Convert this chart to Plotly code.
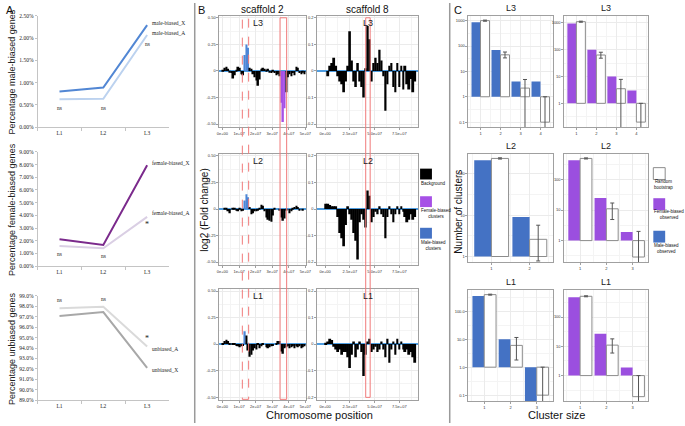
import numpy as np
import plotly.graph_objects as go

W, H = 685, 426

# ---------------- Panel A data ----------------
stages = ["L1", "L2", "L3"]
male_X = [0.80, 0.89, 2.29]
male_A = [0.63, 0.64, 2.07]
female_X = [2.13, 1.67, 7.94]
female_A = [1.59, 1.41, 3.88]
unbiased_A = [97.80, 97.96, 94.16]
unbiased_X = [97.07, 97.45, 92.10]
sig_male = ["ns", "ns", "ns"]
sig_female = ["ns", "ns", "*"]
sig_unbiased = ["ns", "ns", "*"]

# ---------------- Panel B data (log2 fold change per bin) ----------------
s2_bin = 1e6
s8_bin = 2e6
s2_L3 = [0.01, 0.03, 0.04, 0.02, -0.01, -0.02, -0.07, -0.04, 0.01, 0.04,
         0.03, -0.03, -0.04, 0.15, 0.25, 0.22, 0.03, 0.02, -0.03, -0.06,
         -0.09, -0.14, -0.08, 0.02, 0.03, 0.02, 0.01, 0.02, -0.01, -0.02,
         0.01, -0.02, -0.04, -0.03, -0.05, -0.30, -0.48, -0.35, -0.20, -0.06,
         -0.03, -0.05, -0.02, -0.04, 0.04, 0.03, -0.02, -0.03, -0.01, -0.03]
s2_L3_male = [13, 14, 15]
s2_L3_female = [35, 36, 37]
s2_L2 = [0.0, 0.01, 0.01, -0.02, -0.04, 0.0, 0.005, 0.005, -0.01, -0.02,
         0.01, -0.02, -0.01, 0.08, 0.14, 0.11, 0.02, -0.05, -0.04, -0.02,
         -0.02, -0.01, 0.01, 0.04, 0.03, -0.02, -0.08, -0.10, -0.11, -0.12,
         -0.06, 0.01, 0.0, 0.0, -0.01, -0.08, -0.11, -0.09, -0.01, 0.0,
         -0.04, -0.02, 0.01, 0.02, 0.03, 0.02, -0.01, 0.0, -0.01, 0.0]
s2_L2_male = [13, 14, 15]
s2_L2_female = []
s2_L1 = [0.01, 0.03, 0.04, 0.03, 0.01, 0.0, 0.005, 0.005, -0.01, -0.02,
         -0.03, -0.02, -0.01, 0.12, 0.08, -0.06, -0.12, -0.10, -0.06, -0.04,
         -0.05, 0.01, -0.04, -0.02, 0.01, 0.0, -0.03, -0.04, -0.03, -0.02,
         -0.01, 0.0, 0.01, 0.03, 0.03, -0.07, -0.09, -0.04, -0.03, -0.02,
         -0.04, -0.03, -0.02, -0.04, -0.02, -0.03, -0.02, -0.04, -0.03, -0.02]
s2_L1_male = [13]
s2_L1_female = []

s8_L3 = [0.0, -0.02, 0.02, 0.03, 0.05, 0.02, -0.02, -0.04, -0.05, -0.08,
         -0.04, 0.02, 0.15, 0.04, -0.04, -0.06, 0.03, -0.04, -0.06, -0.10,
         0.01, 0.17, 0.12, -0.04, 0.03, 0.05, 0.03, 0.08, 0.04, -0.02,
         -0.15, -0.05, 0.02, 0.03, -0.06, -0.08, 0.03, -0.06, 0.02, -0.07,
         0.02, -0.05, -0.07, -0.03, -0.08, -0.04]
s8_L2 = [0.02, 0.02, 0.015, 0.01, 0.01, 0.01, -0.03, -0.09, -0.11, -0.14,
         -0.06, 0.01, -0.02, -0.04, -0.09, -0.12, -0.19, -0.05, -0.02, -0.04,
         -0.07, 0.07, 0.05, -0.05, -0.03, -0.01, -0.02, 0.01, -0.02, -0.03,
         -0.11, -0.03, 0.01, -0.02, -0.05, -0.02, 0.01, -0.02, 0.01, -0.01,
         -0.03, -0.05, -0.04, -0.02, -0.04, -0.03]
s8_L1 = [0.005, 0.01, 0.02, 0.015, -0.01, -0.02, -0.03, -0.02, -0.04, -0.03,
         -0.03, -0.05, -0.09, -0.04, 0.01, -0.05, -0.02, 0.01, -0.03, -0.12,
         -0.04, 0.01, 0.02, -0.03, -0.02, -0.01, -0.03, -0.02, 0.01, -0.02,
         -0.05, 0.02, -0.07, -0.02, 0.01, -0.04, 0.02, -0.02, 0.01, -0.02,
         -0.03, -0.02, -0.04, -0.03, -0.05, -0.07]
s2_dashed_region = (1.20e7, 1.58e7)
s2_solid_region = (3.47e7, 3.87e7)
s8_solid_region = (4.10e7, 4.55e7)
s2_ticks = [0, 1e7, 2e7, 3e7, 4e7, 5e7]
s2_ticktext = ["0e+00", "1e+07", "2e+07", "3e+07", "4e+07", "5e+07"]
s8_ticks = [0, 2.5e7, 5e7, 7.5e7]
s8_ticktext = ["0e+00", "2.5e+07", "5.0e+07", "7.5e+07"]
s2_yticks = [-0.5, -0.25, 0, 0.25, 0.5]
s2_yticktext = ["-0.50", "-0.25", "0", "0.25", "0.50"]
s8_yticks = [-0.2, -0.1, 0, 0.1, 0.2]
s8_yticktext = ["-0.2", "-0.1", "0", "0.1", "0.2"]

# ---------------- Panel C data (number of clusters) ----------------
L3_sizes = [1, 2, 3, 4]
L3_male_obs = [870, 70, 4, 4]
L3_male_boot = [1000, 45, 2.2, 0.1]
L3_male_lo = [950, 34, 0, 0]
L3_male_hi = [1050, 58, 4.8, 1.0]
L3_fem_obs = [950, 100, 10, 3]
L3_fem_boot = [1100, 63, 3.5, 0.2]
L3_fem_lo = [1050, 48, 0, 0]
L3_fem_hi = [1150, 80, 7.8, 1.0]
L2_male_sizes = [1, 2]
L2_male_obs = [213, 9]
L2_male_boot = [234, 2.6]
L2_male_lo = [226, 0.78]
L2_male_hi = [242, 5.7]
L2_fem_sizes = [1, 2, 3]
L2_fem_obs = [430, 25, 1.9]
L2_fem_boot = [490, 11, 0.29]
L2_fem_lo = [470, 4.9, 0]
L2_fem_hi = [510, 17, 2.0]
L1_sizes = [1, 2, 3]
L1_male_obs = [350, 10, 0]
L1_male_boot = [390, 6, 0.1]
L1_male_lo = [375, 1.8, 0]
L1_male_hi = [405, 11.5, 1.0]
L1_fem_obs = [475, 27, 1.9]
L1_fem_boot = [515, 11, 0.19]
L1_fem_lo = [495, 5.9, 0]
L1_fem_hi = [535, 18, 1.0]

# ---------------- colours ----------------
C_BG = "#000000"
C_M = "#4d86d6"
C_F = "#a650e6"
C_MC = "#4472c4"
C_FC = "#9b4fdf"
RED = "#f07a7a"
FRAME = "#a0a0a0"
GRID = "#ebebeb"
SANS = "Liberation Sans, Arial, sans-serif"
SERIF = "Liberation Serif, Times New Roman, serif"

fig = go.Figure()


def sfx(i):
    return "" if i == 1 else str(i)


def dom(x0, x1, y0, y1):
    return [x0 / W, x1 / W], [1 - y1 / H, 1 - y0 / H]


def set_axes(i, px, py, xa, ya):
    xd, yd = dom(px[0], px[1], py[0], py[1])
    fig.update_layout(**{
        "xaxis" + sfx(i): dict(domain=xd, anchor="y" + sfx(i), **xa),
        "yaxis" + sfx(i): dict(domain=yd, anchor="x" + sfx(i), **ya),
    })


# ================= Panel A =================
A_x = (35, 168)
A_rows = [(13, 126), (151, 267), (297, 403)]
A_sets = [
    (male_X, male_A, "male-biased_X", "male-biased_A", "#5287d4", "#bcd2ef",
     sig_male, [0, 2.5], 0.5, ".2f", -9, (2, 2)),
    (female_X, female_A, "female-biased_X", "female-biased_A", "#7b2a8c", "#dacfe4",
     sig_female, [0, 9], 1, ".2f", -8, (2, 4)),
    (unbiased_X, unbiased_A, "unbiased_X", "unbiased_A", "#a8a8a8", "#dadada",
     sig_unbiased, [89, 99], 1, ".1f", 8, (-2, -3)),
]
A_titles = ["Percentage male-biased genes", "Percentage female-biased genes",
            "Percentage unbiased genes"]
annotations = []
for k, (sx, sa, nx, na, cx, ca, sig, yr, dt, tf, sshift, lshift) in enumerate(A_sets):
    i = k + 1
    tick_font = dict(family=SERIF, size=5.5, color="#222")
    set_axes(i, A_x, A_rows[k],
             dict(type="category", range=[-0.5, 2.5], showline=True, linecolor="#c4c4c4",
                  ticks="outside", tickson="boundaries", ticklen=3, tickcolor="#c4c4c4",
                  showgrid=False, zeroline=False, tickfont=tick_font, fixedrange=True),
             dict(range=yr, dtick=dt, tick0=yr[0], tickformat=tf, ticksuffix="%", showline=True,
                  linecolor="#c4c4c4", ticks="outside", ticklen=2, tickcolor="#c4c4c4",
                  showgrid=False, zeroline=False, tickfont=tick_font, fixedrange=True))
    fig.add_trace(go.Scatter(x=stages, y=sa, mode="lines", line=dict(color=ca, width=2),
                             xaxis="x" + sfx(i), yaxis="y" + sfx(i), showlegend=False))
    fig.add_trace(go.Scatter(x=stages, y=sx, mode="lines", line=dict(color=cx, width=2),
                             xaxis="x" + sfx(i), yaxis="y" + sfx(i), showlegend=False))
    for name, ser, ys in ((nx, sx, lshift[0]), (na, sa, lshift[1])):
        annotations.append(dict(text=name, x=stages[-1], y=ser[-1], xref="x" + sfx(i),
                                yref="y" + sfx(i), xanchor="left", yanchor="middle",
                                xshift=3, yshift=ys, showarrow=False,
                                font=dict(family=SERIF, size=5.5, color="#222")))
    for st, s, v in zip(stages, sig, sa):
        annotations.append(dict(text=s, x=st, y=v, xref="x" + sfx(i), yref="y" + sfx(i),
                                xanchor="center", yanchor="middle", yshift=sshift,
                                showarrow=False,
                                font=dict(family=SERIF, size=5.5 if s == "ns" else 8, color="#222")))
    cy = (A_rows[k][0] + A_rows[k][1]) / 2
    annotations.append(dict(text=A_titles[k], x=9 / W, y=1 - cy / H, xref="paper",
                            yref="paper", textangle=-90, showarrow=False,
                            xanchor="center", yanchor="middle",
                            font=dict(family=SANS, size=9, color="#222")))

# ================= Panel B =================
B_cols = [(219, 307), (318, 420)]
B_rows = [(13, 126), (153, 266), (290, 403)]
B_data = [
    [(s2_L3, s2_L3_male, s2_L3_female), (s8_L3, [], [])],
    [(s2_L2, s2_L2_male, s2_L2_female), (s8_L2, [], [])],
    [(s2_L1, s2_L1_male, s2_L1_female), (s8_L1, [], [])],
]
B_labels = ["L3", "L2", "L1"]
small = dict(family=SANS, size=4, color="#333")
ax_i = 4
B_axis_ids = {}
for r in range(3):
    for c in range(2):
        vals, mi, fi = B_data[r][c]
        binw = s2_bin if c == 0 else s8_bin
        n = len(vals)
        xs = (np.arange(n) + 0.5) * binw
        cols = [C_BG] * n
        for j in mi:
            cols[j] = C_M
        for j in fi:
            cols[j] = C_F
        if c == 0:
            xr, xt, xtt, xm = [-0.18e7, 5.06e7], s2_ticks, s2_ticktext, 0.5e7
            yr, yt, ytt = [-0.53, 0.52], s2_yticks, s2_yticktext
        else:
            xr, xt, xtt, xm = [-0.8e7, 9.4e7], s8_ticks, s8_ticktext, 1.25e7
            yr, yt, ytt = [-0.212, 0.208], s8_yticks, s8_yticktext
        set_axes(ax_i, B_cols[c], B_rows[r],
                 dict(range=xr, tickvals=xt, ticktext=xtt, showline=True, mirror=True,
                      linecolor=FRAME, linewidth=1, showgrid=True, gridcolor=GRID,
                      minor=dict(tickmode="linear", tick0=xm, dtick=2 * xm if c == 0 else 2.5e7,
                                 showgrid=True, gridcolor="#f4f4f4"),
                      zeroline=False, ticks="outside", ticklen=2, tickcolor=FRAME,
                      tickfont=small, fixedrange=True),
                 dict(range=yr, tickvals=yt, ticktext=ytt, showline=True, mirror=True,
                      linecolor=FRAME, linewidth=1, showgrid=True, gridcolor=GRID,
                      minor=dict(tickmode="linear", tick0=yt[0] + (yt[1] - yt[0]) / 2,
                                 dtick=yt[1] - yt[0], showgrid=True, gridcolor="#f4f4f4"),
                      zeroline=True, zerolinecolor="#4f9de0", zerolinewidth=1.5,
                      ticks="outside", ticklen=2, tickcolor=FRAME,
                      tickfont=small, fixedrange=True))
        fig.add_trace(go.Bar(x=xs, y=vals, width=binw, marker=dict(color=cols, line=dict(width=0)),
                             xaxis="x" + sfx(ax_i), yaxis="y" + sfx(ax_i), showlegend=False))
        B_axis_ids[(r, c)] = ax_i
        annotations.append(dict(text=B_labels[r], x=0.5, y=1, xref="x" + sfx(ax_i) + " domain",
                                yref="y" + sfx(ax_i) + " domain", xanchor="center",
                                yanchor="top", yshift=0, xshift=-5 if c == 0 else 0,
                                showarrow=False, font=dict(family=SANS, size=9, color="#222")))
        ax_i += 1

# ================= Panel C =================
C_cols = [(471, 556), (568, 653)]
C_rows = [(13, 126), (153, 263), (291, 404)]
C_sets = [
    [(L3_sizes, L3_male_obs, L3_male_boot, L3_male_lo, L3_male_hi, C_MC,
      [-1.2, 3.19], [-1, 0, 1, 2, 3], ["0.1", "1", "10", "100", "1000"]),
     (L3_sizes, L3_fem_obs, L3_fem_boot, L3_fem_lo, L3_fem_hi, C_FC,
      [-0.89, 3.26], [0, 1, 2, 3], ["1", "10", "100", "1000"])],
    [(L2_male_sizes, L2_male_obs, L2_male_boot, L2_male_lo, L2_male_hi, C_MC,
      [-0.14, 2.48], [0, 1, 2], ["1", "10", "100"]),
     (L2_fem_sizes, L2_fem_obs, L2_fem_boot, L2_fem_lo, L2_fem_hi, C_FC,
      [-0.71, 2.84], [0, 1, 2], ["1", "10", "100"])],
    [(L1_sizes, L1_male_obs, L1_male_boot, L1_male_lo, L1_male_hi, C_MC,
      [-1.22, 2.76], [-1, 0, 1, 2], ["0.1", "1.0", "10.0", "100.0"]),
     (L1_sizes, L1_fem_obs, L1_fem_boot, L1_fem_lo, L1_fem_hi, C_FC,
      [-0.88, 2.93], [0, 1, 2], ["1", "10", "100"])],
]


def safe_log(v):
    v = np.asarray(v, dtype=float)
    out = np.full(v.shape, -6.0)
    out[v > 0] = np.log10(v[v > 0])
    return out


for r in range(3):
    for c in range(2):
        sizes, obs, boot, lo, hi, col, yr, yt, ytt = C_sets[r][c]
        n = len(sizes)
        set_axes(ax_i, C_cols[c], C_rows[r],
                 dict(range=[0.4, n + 0.6], tickvals=sizes, ticktext=[str(s) for s in sizes],
                      showline=True, mirror=True, linecolor=FRAME, linewidth=1,
                      showgrid=True, gridcolor=GRID,
                      minor=dict(tickmode="linear", tick0=0.5, dtick=1, showgrid=True,
                                 gridcolor="#f4f4f4"),
                      zeroline=False, ticks="outside", ticklen=2, tickcolor=FRAME,
                      tickfont=small, fixedrange=True),
                 dict(range=yr, tickvals=yt, ticktext=ytt, showline=True, mirror=True,
                      linecolor=FRAME, linewidth=1, showgrid=True, gridcolor=GRID,
                      minor=dict(tickmode="linear", tick0=-1.5, dtick=1, showgrid=True,
                                 gridcolor="#f4f4f4"),
                      zeroline=False, ticks="outside", ticklen=2, tickcolor=FRAME,
                      tickfont=small, fixedrange=True))
        lobs = safe_log(obs)
        lb = safe_log(boot)
        llo = safe_log(lo)
        lhi = safe_log(hi)
        fig.add_trace(go.Bar(x=sizes, y=lobs, base=0, marker=dict(color=col, line=dict(width=0)),
                             offsetgroup="obs", xaxis="x" + sfx(ax_i), yaxis="y" + sfx(ax_i),
                             showlegend=False))
        fig.add_trace(go.Bar(x=sizes, y=lb, base=0,
                             marker=dict(color="white", line=dict(width=1, color="#8c8c8c")),
                             error_y=dict(type="data", symmetric=False, array=lhi - lb,
                                          arrayminus=lb - llo, color="#555", thickness=1, width=2),
                             offsetgroup="boot", xaxis="x" + sfx(ax_i), yaxis="y" + sfx(ax_i),
                             showlegend=False))
        annotations.append(dict(text=B_labels[r], x=0.5, y=1, xref="x" + sfx(ax_i) + " domain",
                                yref="y" + sfx(ax_i) + " domain", xanchor="center",
                                yanchor="bottom", yshift=1, showarrow=False,
                                font=dict(family=SANS, size=9, color="#222")))
        ax_i += 1


# ================= text, legends, separators =================
def ann(text, x, y, size, xa="center", ya="middle", angle=0, family=SANS):
    annotations.append(dict(text=text, x=x / W, y=1 - y / H, xref="paper", yref="paper",
                            xanchor=xa, yanchor=ya, textangle=angle, showarrow=False,
                            font=dict(family=family, size=size, color="#111")))


ann("A", 1, 7, 11, xa="left")
ann("B", 195, 7, 11, xa="left")
ann("C", 454, 7, 11, xa="left")
ann("scaffold 2", 263, 7, 10)
ann("scaffold 8", 369, 7, 10)
ann("log2 (Fold change)", 203, 210, 10, angle=-90)
ann("Chromosome position", 320, 418, 11)
ann("Number of clusters", 460, 212, 10, angle=-90)
ann("Cluster size", 560, 418, 11)
ann("Background", 421, 183, 4.5, xa="left")
ann("Female-biased<br>clusters", 421, 214, 4.5, xa="left")
ann("Male-biased<br>clusters", 421, 246, 4.5, xa="left")
ann("Random<br>bootstrap", 657, 184, 4.5, xa="left")
ann("Female-biased<br>observed", 657, 215, 4.5, xa="left")
ann("Male-biased<br>observed", 657, 249, 4.5, xa="left")

shapes = []


def prect(x0, y0, x1, y1, fill, line="rgba(0,0,0,0)", lw=0):
    shapes.append(dict(type="rect", xref="paper", yref="paper", x0=x0 / W, x1=x1 / W,
                       y0=1 - y1 / H, y1=1 - y0 / H, fillcolor=fill,
                       line=dict(color=line, width=lw)))


prect(422, 168, 434, 179, C_BG)
prect(422, 196, 434, 207, C_F)
prect(422, 228, 434, 239, C_MC)
prect(658, 167, 670, 179, "white", "#8c8c8c", 1)
prect(658, 198, 670, 210, C_FC)
prect(658, 231, 670, 243, C_MC)

for xp in (194, 452):
    shapes.append(dict(type="line", xref="paper", yref="paper", x0=xp / W, x1=xp / W,
                       y0=0, y1=1, line=dict(color="#9a9a9a", width=1.5)))

s2_ax = "x" + sfx(B_axis_ids[(0, 0)])
s8_ax = "x" + sfx(B_axis_ids[(0, 1)])
shapes.append(dict(type="rect", xref=s2_ax, yref="paper", x0=s2_dashed_region[0],
                   x1=s2_dashed_region[1], y0=1 - 402 / H, y1=1 - 15 / H,
                   line=dict(color=RED, width=1, dash="dash")))
shapes.append(dict(type="rect", xref=s2_ax, yref="paper", x0=s2_solid_region[0],
                   x1=s2_solid_region[1], y0=1 - 402 / H, y1=1 - 15 / H,
                   line=dict(color=RED, width=1)))
shapes.append(dict(type="rect", xref=s8_ax, yref="paper", x0=s8_solid_region[0],
                   x1=s8_solid_region[1], y0=1 - 400 / H, y1=1 - 15 / H,
                   line=dict(color=RED, width=1)))

fig.update_layout(width=W, height=H, autosize=False,
                  margin=dict(l=0, r=0, t=0, b=0),
                  paper_bgcolor="white", plot_bgcolor="white",
                  barmode="group", bargap=0.1, bargroupgap=0,
                  showlegend=False, annotations=annotations, shapes=shapes)

fig.write_html("out.html", config={"displayModeBar": False},
               post_script="document.body.style.margin='0px';"
                           "document.body.style.overflow='hidden';")
